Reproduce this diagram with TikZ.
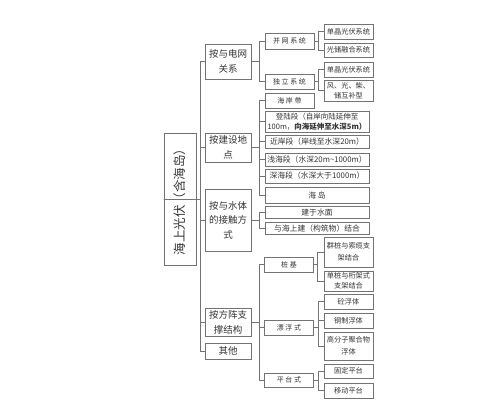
\documentclass[tikz,border=0pt]{standalone}
\usepackage{fontspec}
\setmainfont{Noto Sans CJK SC}
\begin{document}
\begin{tikzpicture}[x=1pt,y=-1pt,
  box/.style={draw=black!55, line width=0.7pt, inner sep=1pt, align=center, text=black!80},
  rootbox/.style={box, rotate=90, minimum width=132pt, minimum height=32pt, font=\fontsize{12.5}{14}\selectfont},
  lone/.style={box, minimum width=46pt, font=\fontsize{9.5}{14.5}\selectfont},
  ltwon/.style={box, minimum width=49pt, font=\fontsize{7}{9}\selectfont},
  ltwow/.style={box, minimum width=104pt, font=\fontsize{7.8}{9.6}\selectfont},
  lthree/.style={box, minimum width=49pt, font=\fontsize{7.2}{10}\selectfont},
  conn/.style={draw=black!55, line width=0.7pt}]
\useasboundingbox (0,0) rectangle (500,408);
% root
\node[rootbox] (r) at (180,199) {海上光伏（含海岛）};
% level 1
\node[lone, minimum height=35pt] (g1) at (228,61.5) {按与电网\\关系};
\node[lone, minimum height=29pt] (g2) at (228,147.5) {按建设地\\点};
\node[lone, minimum height=62pt] (g3) at (228,220) {按与水体\\的接触方\\式};
\node[lone, minimum height=28pt] (g4) at (228,322.5) {按方阵支\\撑结构};
\node[lone, minimum height=16pt] (g5) at (228,351) {其他};
% level 2
\node[ltwon, minimum height=16pt] (a1) at (289.5,41) {并 网 系 统};
\node[ltwon, minimum height=15pt] (a2) at (289.5,81.5) {独 立 系 统};
\node[ltwon, minimum height=15pt] (b1) at (289.5,100.5) {海 岸 带};
\node[ltwow, minimum height=21pt, font=\fontsize{7.5}{9.6}\selectfont] (b2) at (317,121.5) {登陆段（自岸向陆延伸至\\100m，{\bfseries 向海延伸至水深5m）}};
\node[ltwow, minimum height=13pt] (b3) at (317,141.5) {近岸段（岸线至水深20m）};
\node[ltwow, minimum height=13pt] (b4) at (317,159.5) {浅海段（水深20m\textasciitilde1000m）};
\node[ltwow, minimum height=14pt] (b5) at (317,176) {深海段（水深大于1000m）};
\node[ltwow, minimum height=16pt] (b6) at (317,195) {海 岛};
\node[ltwow, minimum height=12pt] (c1) at (317,212.5) {建于水面};
\node[ltwow, minimum height=12pt] (c2) at (317,228.5) {与海上建（构筑物）结合};
\node[ltwon, minimum height=15pt] (d1) at (289,264.5) {桩 基};
\node[ltwon, minimum height=15pt] (d2) at (289,327.5) {漂 浮 式};
\node[ltwon, minimum height=14pt] (d3) at (289,380) {平 台 式};
% level 3
\node[lthree, minimum height=15pt] (e1) at (348.5,31.5) {单晶光伏系统};
\node[lthree, minimum height=14pt] (e2) at (348.5,50) {光储融合系统};
\node[lthree, minimum height=15pt] (e3) at (348.5,69.5) {单晶光伏系统};
\node[lthree, minimum height=21pt] (e4) at (348.5,90.5) {风、光、柴、\\储互补型};
\node[lthree, minimum height=30pt, font=\fontsize{7.2}{12}\selectfont] (f1) at (348.5,252) {群桩与索缆支\\架结合};
\node[lthree, minimum height=20pt] (f2) at (348.5,281) {单桩与桁架式\\支架结合};
\node[lthree, minimum height=15pt] (f3) at (348.5,301.5) {砼浮体};
\node[lthree, minimum height=15pt] (f4) at (348.5,320.5) {钢制浮体};
\node[lthree, minimum height=28pt, font=\fontsize{7.2}{12}\selectfont] (f5) at (348.5,346) {高分子聚合物\\浮体};
\node[lthree, minimum height=14pt] (f6) at (348.5,371) {固定平台};
\node[lthree, minimum height=15pt] (f7) at (348.5,390.5) {移动平台};
% connectors
\foreach \c in {g1,g2,g3,g4,g5} \draw[conn] (r.north) -| ([xshift=-4pt]\c.west) -- (\c.west);
\foreach \c in {a1,a2} \draw[conn] (g1.east) -| ([xshift=-5pt]\c.west) -- (\c.west);
\foreach \c in {b1,b2,b3,b4,b5,b6} \draw[conn] (g2.east) -| ([xshift=-5pt]\c.west) -- (\c.west);
\foreach \c in {c1,c2} \draw[conn] (g3.east) -| ([xshift=-5pt]\c.west) -- (\c.west);
\foreach \c in {d1,d2,d3} \draw[conn] (g4.east) -| ([xshift=-5pt]\c.west) -- (\c.west);
\foreach \c in {e1,e2} \draw[conn] (a1.east) -| ([xshift=-5pt]\c.west) -- (\c.west);
\foreach \c in {e3,e4} \draw[conn] (a2.east) -| ([xshift=-5pt]\c.west) -- (\c.west);
\foreach \c in {f1,f2} \draw[conn] (d1.east) -| ([xshift=-6pt]\c.west) -- (\c.west);
\foreach \c in {f3,f4,f5} \draw[conn] (d2.east) -| ([xshift=-5pt]\c.west) -- (\c.west);
\foreach \c in {f6,f7} \draw[conn] (d3.east) -| ([xshift=-5pt]\c.west) -- (\c.west);
\end{tikzpicture}
\end{document}
